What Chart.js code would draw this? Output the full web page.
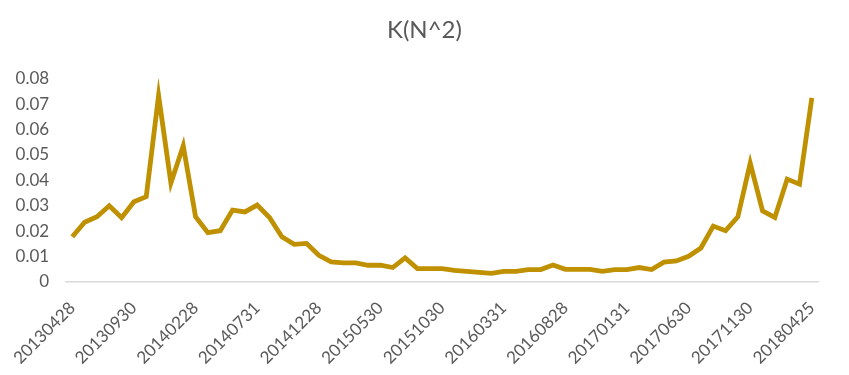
<!DOCTYPE html>
<html>
<head>
<meta charset="utf-8">
<script src="https://cdn.jsdelivr.net/npm/chart.js@4/dist/chart.umd.min.js"></script>
<style>
  html, body { margin: 0; padding: 0; background: #fff; }
  #wrap { width: 849px; height: 375px; }
</style>
</head>
<body>
<div id="wrap"><canvas id="kChart" width="849" height="375"></canvas></div>
<script>
// tick labels shown on the x axis (one every 5 months)
const tickLabels = ['20130428', '20130930', '20140228', '20140731', '20141228', '20150530',
  '20151030', '20160331', '20160828', '20170131', '20170630', '20171130', '20180425'];
const labelStep = 5;

// monthly K(N^2) values
const kValues = [
  0.0178, 0.0235, 0.0257, 0.0300, 0.0253, 0.0316, 0.0336, 0.0734, 0.0390, 0.0536,
  0.0257, 0.0194, 0.0202, 0.0283, 0.0276, 0.0303, 0.0254, 0.0178, 0.0148, 0.0152,
  0.0105, 0.0079, 0.0075, 0.0075, 0.0066, 0.0066, 0.0057, 0.0095, 0.0053, 0.0053,
  0.0053, 0.0046, 0.0042, 0.0038, 0.0034, 0.0042, 0.0042, 0.0049, 0.0049, 0.0067,
  0.0050, 0.0050, 0.0050, 0.0042, 0.0049, 0.0049, 0.0057, 0.0049, 0.0078, 0.0083,
  0.0101, 0.0134, 0.0220, 0.0202, 0.0257, 0.0468, 0.0280, 0.0254, 0.0405, 0.0385,
  0.0725
];

const labels = kValues.map((v, i) => i % labelStep === 0 ? tickLabels[i / labelStep] : '');

const textColor = '#595959';
const ctx = document.getElementById('kChart').getContext('2d');

new Chart(ctx, {
  type: 'line',
  data: {
    labels: labels,
    datasets: [{
      label: 'K(N^2)',
      data: kValues,
      borderColor: '#bf9000',
      borderWidth: 4.8,
      pointRadius: 0,
      tension: 0,
      fill: false
    }]
  },
  options: {
    responsive: false,
    animation: false,
    layout: { padding: 0 },
    plugins: {
      legend: { display: false },
      tooltip: { enabled: false },
      title: {
        display: true,
        text: 'K(N^2)',
        color: textColor,
        font: { family: 'Lato', size: 24, weight: 'normal' },
        padding: { top: 16, bottom: 34 }
      }
    },
    scales: {
      x: {
        offset: true,
        grid: { display: false, drawTicks: false },
        border: { display: true, color: '#d9d9d9', width: 1.5 },
        ticks: {
          autoSkip: false,
          maxRotation: 45,
          minRotation: 45,
          padding: 16,
          color: textColor,
          font: { family: 'Lato', size: 17 }
        },
        afterFit: (scale) => { scale.height = 93; }
      },
      y: {
        min: 0,
        max: 0.08,
        grid: { display: false, drawTicks: false },
        border: { display: false },
        ticks: {
          stepSize: 0.01,
          padding: 17,
          color: textColor,
          font: { family: 'Lato', size: 17 },
          callback: (v) => v === 0 ? '0' : Number(v).toFixed(2)
        },
        afterFit: (scale) => { scale.width = 65; }
      },
      // empty right-hand axis, only reserves the right margin
      yRight: {
        position: 'right',
        grid: { display: false, drawTicks: false },
        border: { display: false },
        ticks: { display: false },
        afterFit: (scale) => { scale.width = 31; }
      }
    }
  }
});
</script>
</body>
</html>
